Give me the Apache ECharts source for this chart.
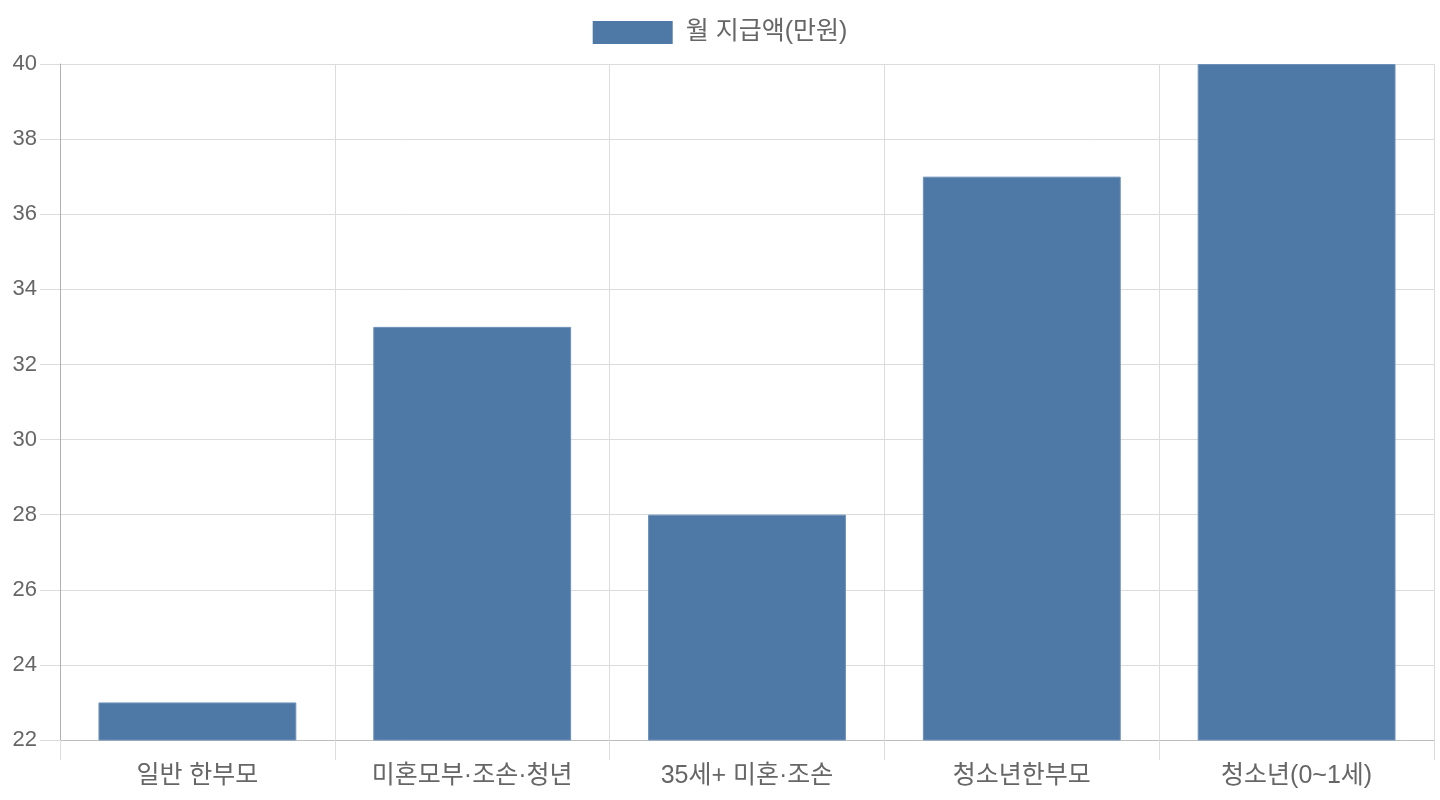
<!DOCTYPE html>
<html lang="ko">
<head>
    <meta charset="utf-8">
    <title>월 지급액</title>
    <style>
        html, body { margin: 0; padding: 0; background: #fff; }
        #chart { width: 1440px; height: 800px; }
    </style>
</head>
<body>
<div id="chart"></div>
<script src="https://cdn.jsdelivr.net/npm/echarts@6/dist/echarts.min.js"></script>
<script>
    var categories = ['일반 한부모', '미혼모부·조손·청년', '35세+ 미혼·조손', '청소년한부모', '청소년(0~1세)'];
    var amounts = [23, 33, 28, 37, 40];
    var seriesName = '월 지급액(만원)';

    var fontFamily = '"Liberation Sans", "Noto Sans CJK KR", sans-serif';

    var myChart = echarts.init(document.getElementById('chart'));
    var option = {
        animation: false,
        textStyle: { fontFamily: fontFamily },
        legend: {
            top: 15,
            left: 'center',
            icon: 'rect',
            itemWidth: 80,
            itemHeight: 23,
            itemGap: 10,
            itemStyle: { borderWidth: 0 },
            textStyle: { color: '#666', fontSize: 25, padding: [0, 0, 0, 8], fontFamily: fontFamily },
            data: [seriesName]
        },
        grid: {
            left: 60,
            right: 6,
            top: 64,
            bottom: 60,
            containLabel: false
        },
        xAxis: {
            type: 'category',
            data: categories,
            axisLine: { lineStyle: { color: '#bdbdbd', width: 1 } },
            axisTick: { show: true, length: 20, lineStyle: { color: '#dcdcdc' } },
            splitLine: { show: true, lineStyle: { color: '#dcdcdc' } },
            axisLabel: { color: '#666', fontSize: 25, margin: 24, fontFamily: fontFamily }
        },
        yAxis: {
            type: 'value',
            min: 22,
            max: 40,
            interval: 2,
            axisLine: { show: true, lineStyle: { color: '#b0b0b0', width: 1 } },
            axisTick: { show: true, length: 20, lineStyle: { color: '#dcdcdc' } },
            splitLine: { show: true, lineStyle: { color: '#dcdcdc' } },
            axisLabel: { color: '#666', fontSize: 22, margin: 23, fontFamily: fontFamily }
        },
        series: [{
            name: seriesName,
            type: 'bar',
            data: amounts,
            barCategoryGap: '28%',
            itemStyle: {
                color: '#4e79a7',
                borderColor: '#6e91ba',
                borderWidth: 1
            }
        }]
    };
    myChart.setOption(option);
</script>
</body>
</html>
